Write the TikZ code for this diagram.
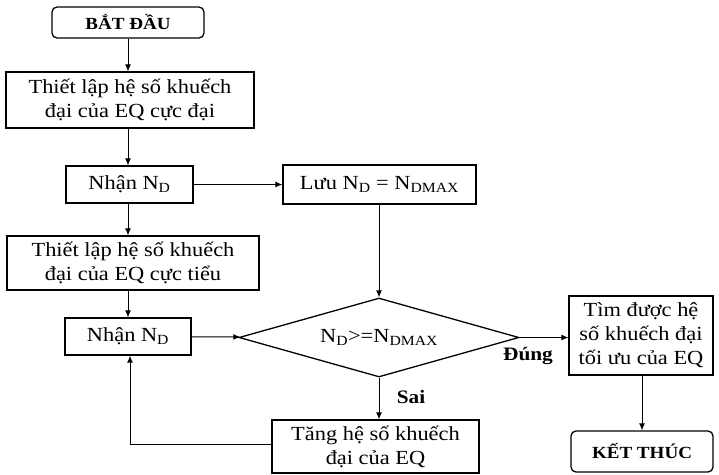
\documentclass[tikz,border=0pt]{standalone}
\usepackage{fontspec}
\setmainfont[FakeStretch=1.12]{Liberation Serif}
\usepackage{tikz}
\usetikzlibrary{arrows.meta,shapes,positioning,calc}

\begin{document}
\begin{tikzpicture}[x=1pt,y=-1pt,
    box/.style={draw,line width=1.3pt,inner sep=0pt,align=center,font=\fontsize{20}{24}\selectfont},
    term/.style={box,rounded corners=5pt,font=\fontsize{17}{20}\selectfont\bfseries},
    cond/.style={draw,line width=1.3pt,diamond,aspect=3.54,inner sep=0pt,font=\fontsize{20}{24}\selectfont},
    lbl/.style={font=\fontsize{19}{22}\selectfont\bfseries},
    arr/.style={line width=1pt,-{Latex[length=7pt,width=6pt]}}]
    \useasboundingbox (0,0) rectangle (719,474);

    % cot trai
    \node[term,minimum width=152pt,minimum height=31pt] (start) at (128,22.5) {BẮT ĐẦU};
    \node[box,minimum width=248pt,minimum height=56pt] (setmax) at (130,100) {Thiết lập hệ số khuếch\\đại của EQ cực đại};
    \node[box,minimum width=127pt,minimum height=37pt] (recv1) at (129.5,184.5) {Nhận N\textsubscript{D}};
    \node[box,minimum width=252pt,minimum height=54pt] (setmin) at (133,263) {Thiết lập hệ số khuếch\\đại của EQ cực tiểu};
    \node[box,minimum width=126pt,minimum height=37pt] (recv2) at (128,336.5) {Nhận N\textsubscript{D}};

    % cot giua
    \node[box,minimum width=193pt,minimum height=39pt] (save) at (379.5,184.5) {Lưu N\textsubscript{D} = N\textsubscript{DMAX}};
    \node[cond,minimum width=280pt,minimum height=79pt] (check) at (379,337.5) {N\textsubscript{D}>=N\textsubscript{DMAX}};
    \node[box,minimum width=207pt,minimum height=53pt] (incr) at (375.5,446.5) {Tăng hệ số khuếch\\đại của EQ};

    % cot phai
    \node[box,minimum width=144pt,minimum height=79pt] (found) at (641,335.5) {Tìm được hệ\\số khuếch đại\\tối ưu của EQ};
    \node[term,minimum width=142pt,minimum height=41pt] (stop) at (642,451.5) {KẾT THÚC};

    % mui ten
    \draw[arr] (start.south) -- (start.south |- setmax.north);
    \draw[arr] (start.south |- setmax.south) -- (start.south |- recv1.north);
    \draw[arr] (recv1) -- (save);
    \draw[arr] (start.south |- recv1.south) -- (start.south |- setmin.north);
    \draw[arr] (start.south |- setmin.south) -- (start.south |- recv2.north);
    \draw[arr] (recv2) -- (check);
    \draw[arr] (check.north |- save.south) -- (check.north);
    \draw[arr] (check.east) -- (check.east -| found.west);
    \draw[arr] (found.south -| stop) -- (stop);
    \draw[arr] (check.south) -- (check.south |- incr.north);
    \draw[arr] ([yshift=2pt]incr.west) -| ([xshift=2pt]recv2.south);

    % nhan
    \node[lbl] (yes) at (528,356) {Đúng};
    \node[lbl] (no) at (411,397) {Sai};
\end{tikzpicture}
\end{document}
